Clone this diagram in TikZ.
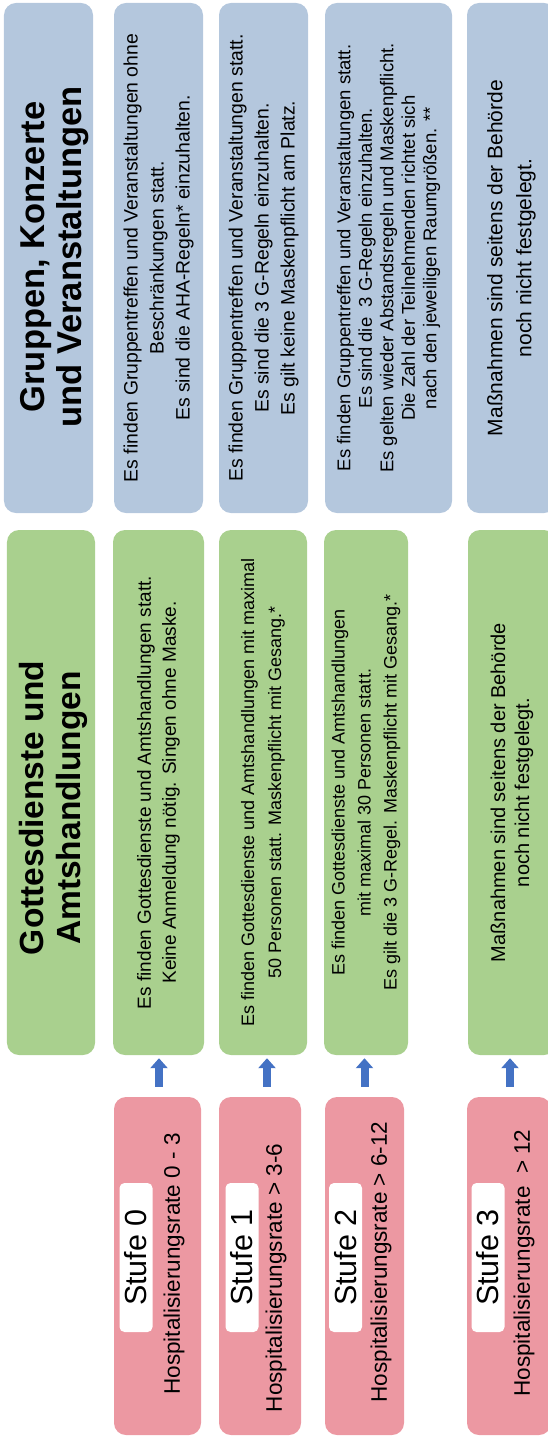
\documentclass[tikz,border=0pt]{standalone}
\usepackage{fontspec}
\setmainfont{Liberation Sans}
\usepackage{xcolor}
\definecolor{colorGroup}{RGB}{180,199,221}
\definecolor{colorService}{RGB}{169,208,142}
\definecolor{colorLevel}{RGB}{236,152,162}
\definecolor{colorArrow}{RGB}{68,114,196}
\usepackage{tikz}
\usetikzlibrary{arrows.meta, positioning}
\newcommand{\boxfont}[2]{\fontsize{#1bp}{#2bp}\selectfont}
\tikzset{
  panel/.style={rotate=90, rounded corners=12bp, inner sep=0pt, align=center},
  groupbox/.style={panel, fill=colorGroup, minimum width=510bp},
  servicebox/.style={panel, fill=colorService, minimum width=525bp},
  levelbox/.style={panel, fill=colorLevel, minimum width=338bp},
  headtext/.style={rotate=90, inner sep=0pt, align=center, font=\bfseries\boxfont{34.5}{37}},
  levellabel/.style={rotate=90, fill=white, rounded corners=5bp, inner sep=0pt, minimum width=149bp, minimum height=33bp, font=\boxfont{30.5}{32}},
  levelrate/.style={rotate=90, inner sep=0pt, font=\boxfont{22.5}{24}},
  levelarrow/.style={draw=colorArrow, line width=8bp, -{Triangle[width=17bp,length=10bp]}, shorten <=10bp, shorten >=3bp}
}

\begin{document}
\begin{tikzpicture}[x=1bp, y=-1bp]
\useasboundingbox (0,0) rectangle (548,1440);
\clip (0,0) rectangle (548,1440);
% Gruppen, Konzerte und Veranstaltungen
\node[groupbox, minimum height=89bp] (bh) at (48.5,258) {};
\node[headtext] (bhtext) at (55,257) {Gruppen, Konzerte\\und Veranstaltungen};
\node[groupbox, minimum height=89bp, font=\boxfont{19.4}{26}] (b0) at (158.5,258) {Es finden Gruppentreffen und Veranstaltungen ohne\\Beschränkungen statt.\\Es sind die AHA-Regeln* einzuhalten.};
\node[groupbox, minimum height=89bp, font=\boxfont{19.4}{26}] (b1) at (263.5,258) {Es finden Gruppentreffen und Veranstaltungen statt.\\Es sind die 3 G-Regeln einzuhalten.\\Es gilt keine Maskenpflicht am Platz.};
\node[groupbox, minimum height=127bp, font=\boxfont{18.5}{21.5}] (b2) at (388.5,258) {Es finden Gruppentreffen und Veranstaltungen statt.\\Es sind die\ \ 3 G-Regeln einzuhalten.\\Es gelten wieder Abstandsregeln und Maskenpflicht.\\Die Zahl der Teilnehmenden richtet sich\\nach den jeweiligen Raumgrößen. **};
\node[groupbox, minimum height=89bp, font=\boxfont{21}{29}] (b3) at (511.5,258) {Maßnahmen sind seitens der Behörde\\noch nicht festgelegt.};
% Gottesdienste und Amtshandlungen
\node[servicebox, minimum height=88bp] (gh) at (51,792.5) {};
\node[headtext, font=\bfseries\boxfont{33.5}{37}] (ghtext) at (53,808) {Gottesdienste und\\Amtshandlungen};
\node[servicebox, minimum height=91bp, font=\boxfont{19}{25}] (g0) at (158.5,792.5) {Es finden Gottesdienste und Amtshandlungen statt.\\Keine Anmeldung nötig. Singen ohne Maske.};
\node[servicebox, minimum height=88bp, font=\boxfont{18}{27}] (g1) at (263,792.5) {Es finden Gottesdienste und Amtshandlungen mit maximal\\50 Personen statt. Maskenpflicht mit Gesang.*};
\node[servicebox, minimum height=84bp, font=\boxfont{18}{26}] (g2) at (366,792.5) {Es finden Gottesdienste und Amtshandlungen\\mit maximal 30 Personen statt.\\Es gilt die 3 G-Regel. Maskenpflicht mit Gesang.*};
\node[servicebox, minimum height=88bp, font=\boxfont{20}{24}] (g3) at (512,792.5) {Maßnahmen sind seitens der Behörde\\noch nicht festgelegt.};
% Stufen
\node[levelbox, minimum height=87bp] (s0) at (157.5,1266) {};
\node[levelbox, minimum height=82bp] (s1) at (260,1266) {};
\node[levelbox, minimum height=79bp] (s2) at (364.5,1266) {};
\node[levelbox, minimum height=84bp] (s3) at (509,1266) {};
\node[levellabel] (s0lab) at (136,1257.5) {Stufe 0};
\node[levellabel] (s1lab) at (242,1257.5) {Stufe 1};
\node[levellabel] (s2lab) at (345.5,1257.5) {Stufe 2};
\node[levellabel] (s3lab) at (488,1257.5) {Stufe 3};
\node[levelrate] (s0rate) at (174,1264) {Hospitalisierungsrate 0 - 3};
\node[levelrate] (s1rate) at (276,1278) {Hospitalisierungsrate > 3-6};
\node[levelrate] (s2rate) at (381,1262) {Hospitalisierungsrate > 6-12};
\node[levelrate] (s3rate) at (524,1263) {Hospitalisierungsrate\ \ > 12};
% Pfeile
\draw[levelarrow] ([xshift=1.5bp]s0.east) -- ([xshift=1.5bp]s0.east |- g0.west);
\draw[levelarrow] ([xshift=7bp]s1.east) -- ([xshift=7bp]s1.east |- g1.west);
\draw[levelarrow] (s2.east) -- (s2.east |- g2.west);
\draw[levelarrow] ([xshift=1bp]s3.east) -- ([xshift=1bp]s3.east |- g3.west);
\end{tikzpicture}
\end{document}
